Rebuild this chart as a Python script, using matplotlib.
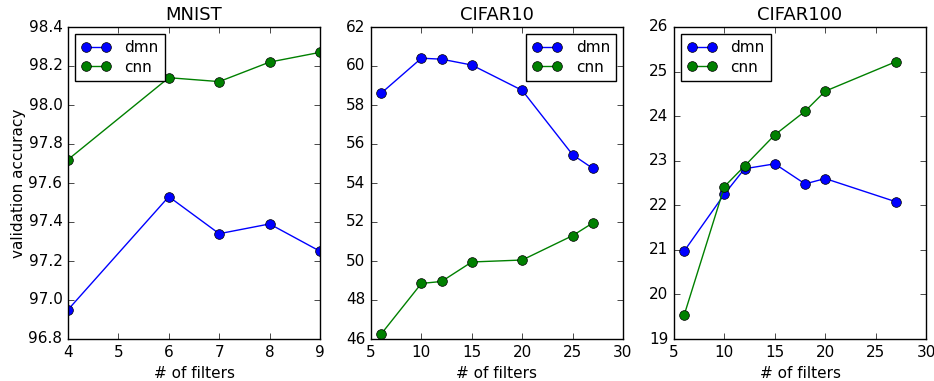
import matplotlib
matplotlib.use("Agg")
import matplotlib.pyplot as plt

plt.style.use("classic")
plt.rcParams["figure.facecolor"] = "white"
plt.rcParams["savefig.facecolor"] = "white"
plt.rcParams["font.family"] = ["DejaVu Sans"]

# MNIST
mnist_filters = [4, 6, 7, 8, 9]
mnist_dmn = [96.95, 97.53, 97.34, 97.39, 97.25]
mnist_cnn = [97.72, 98.14, 98.12, 98.22, 98.27]

# CIFAR10
cifar10_filters = [6, 10, 12, 15, 20, 25, 27]
cifar10_dmn = [58.6, 60.4, 60.35, 60.05, 58.75, 55.45, 54.75]
cifar10_cnn = [46.25, 48.85, 48.95, 49.95, 50.05, 51.3, 51.95]

# CIFAR100
cifar100_filters = [6, 10, 12, 15, 18, 20, 27]
cifar100_dmn = [20.97, 22.25, 22.82, 22.93, 22.48, 22.6, 22.08]
cifar100_cnn = [19.53, 22.42, 22.88, 23.58, 24.11, 24.56, 25.22]

panels = [
    ("MNIST", mnist_filters, mnist_dmn, mnist_cnn, (4, 9), (96.8, 98.4), "upper left"),
    ("CIFAR10", cifar10_filters, cifar10_dmn, cifar10_cnn, (5, 30), (46, 62), "upper right"),
    ("CIFAR100", cifar100_filters, cifar100_dmn, cifar100_cnn, (5, 30), (19, 26), "upper left"),
]

fig = plt.figure(figsize=(9.34, 3.81), dpi=100)
lefts = [68 / 934, 371 / 934, 674 / 934]
bottom = 1 - 339 / 381
height = (339 - 27) / 381
width = 252 / 934

for i, (title, x, dmn, cnn, xl, yl, loc) in enumerate(panels):
    ax = fig.add_axes([lefts[i], bottom, width, height])
    ax.plot(x, dmn, "o-", color="b", markersize=7, mec="k", mew=0.5, label="dmn")
    ax.plot(x, cnn, "o-", color="g", markersize=7, mec="k", mew=0.5, label="cnn")
    ax.set_xlim(*xl)
    ax.set_ylim(*yl)
    ax.set_title(title, fontsize=13)
    ax.set_xlabel("# of filters", fontsize=11)
    ax.tick_params(labelsize=11)
    if i == 0:
        ax.set_ylabel("validation accuracy", fontsize=11, labelpad=2)
    ax.legend(loc=loc, numpoints=2, fontsize=11, handlelength=1.95,
              handletextpad=0.9, borderaxespad=0.45, borderpad=0.4,
              labelspacing=0.3, fancybox=False)

fig.savefig("out.png", dpi=100)
